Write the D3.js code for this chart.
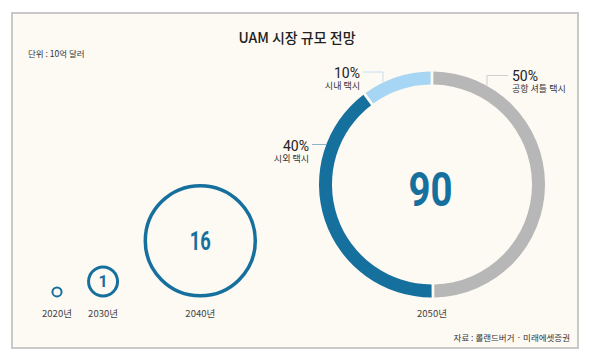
<!DOCTYPE html>
<html><head><meta charset="utf-8">
<script src="https://cdn.jsdelivr.net/npm/d3@7"></script>
<style>
html,body{margin:0;padding:0;background:#fff;}
svg{display:block;}
</style></head>
<body>
<svg id="chart" width="591" height="362"></svg>
<script>
// ---- data ----
const title = "UAM 시장 규모 전망";
const unitLabel = "단위 : 10억 달러";
const sourceLabel = "자료 : 롤랜드버거 · 미래에셋증권";
const years = ["2020년", "2030년", "2040년", "2050년"];
const marketValues = [0.09, 1, 16, 90];
const valueLabels = ["", "1", "16", "90"];
const segmentNames = ["공항 셔틀 택시", "시외 택시", "시내 택시"];
const segmentShares = [50, 40, 10];
const segmentColors = ["#b7b7b7", "#16709e", "#a6d6f3"];

// ---- layout ----
const svg = d3.select("#chart");
const W = 591, H = 362;
const blue = "#16709e";
const kr = "'Noto Sans CJK KR', 'Noto Sans', sans-serif";
const num = "Roboto, 'Noto Sans', sans-serif";

svg.append("rect").attr("x", 12).attr("y", 13).attr("width", 566).attr("height", 335)
  .attr("fill", "#fdf9f3").attr("stroke", "#c9c9c9").attr("stroke-width", 2);

svg.append("text").attr("x", 297).attr("y", 42.5).attr("text-anchor", "middle")
  .attr("font-family", kr).attr("font-size", 14).attr("font-weight", 500).attr("fill", "#222")
  .text(title);
svg.append("text").attr("x", 28).attr("y", 57).attr("font-family", kr)
  .attr("font-size", 8.5).attr("fill", "#333").text(unitLabel);
svg.append("text").attr("x", 570).attr("y", 341).attr("text-anchor", "end").attr("font-family", kr)
  .attr("font-size", 8.5).attr("fill", "#333").text(sourceLabel);

// radius scale for the year circles
const rScale = d3.scalePow().exponent(0.481).domain([0, 16]).range([0, 55]);
const strokeW = [2, 3, 3.5];
const baseY = 297.5;      // bottom edge of all circles
const gap = 24.5;
const donutOuter = 113, donutInner = 100;
const donutCx = 432, donutCy = baseY - donutOuter;

// circles for years 0..2, cumulative x placement
let xPrev = null, rPrev = 0, swPrev = 0;
const xs = [];
for (let i = 0; i < 3; i++) {
  const r = rScale(marketValues[i]);
  const sw = strokeW[i];
  const x = i === 0 ? 57 : xPrev + rPrev + swPrev / 2 + gap + r + sw / 2;
  xs.push(x);
  const cy = baseY - r - sw / 2;
  svg.append("circle").attr("cx", x).attr("cy", cy).attr("r", r)
    .attr("fill", "none").attr("stroke", blue).attr("stroke-width", sw);
  if (valueLabels[i]) {
    const fs = i === 1 ? 16 : 26;
    const t = svg.append("text").attr("x", x).attr("y", cy).attr("dy", "0.36em")
      .attr("text-anchor", "middle").attr("font-family", num).attr("font-weight", 700)
      .attr("font-size", fs).attr("fill", blue).text(valueLabels[i]);
    if (i === 2) t.attr("textLength", 21).attr("lengthAdjust", "spacingAndGlyphs");
  }
  xPrev = x; rPrev = r; swPrev = sw;
}
xs.push(donutCx);

// year labels
svg.selectAll("text.year").data(years).join("text").attr("class", "year")
  .attr("x", (d, i) => xs[i]).attr("y", 316.5).attr("text-anchor", "middle")
  .attr("font-family", kr).attr("font-size", 9.5).attr("fill", "#444").text(d => d);

// donut for 2050
const pie = d3.pie().sort(null).value(d => d).padAngle(0.018);
const arc = d3.arc().innerRadius(donutInner).outerRadius(donutOuter);
const g = svg.append("g").attr("transform", `translate(${donutCx},${donutCy})`);
g.selectAll("path").data(pie(segmentShares)).join("path")
  .attr("d", arc).attr("fill", (d, i) => segmentColors[i]);

g.append("text").attr("x", -1.5).attr("y", 4).attr("dy", "0.36em").attr("text-anchor", "middle")
  .attr("font-family", num).attr("font-weight", 700).attr("font-size", 48).attr("fill", blue)
  .attr("textLength", 44).attr("lengthAdjust", "spacingAndGlyphs")
  .text(valueLabels[3]);

// segment labels with leader lines (offsets relative to donut centre)
const labels = [
  { i: 0, anchor: "start", x: 80, y: -104, line: [[76, -109], [55, -109], [55, -99]], stroke: "#cfcfcf" },
  { i: 1, anchor: "end", x: -123, y: -34, line: [[-120, -40], [-106, -40]], stroke: "#8db3c9" },
  { i: 2, anchor: "end", x: -72, y: -107, line: [[-69, -112.5], [-49, -112.5], [-49, -102]], stroke: "#c4e0f0" }
];
labels.forEach(l => {
  g.append("path").attr("d", d3.line()(l.line)).attr("fill", "none")
    .attr("stroke", l.stroke).attr("stroke-width", 1);
  g.append("text").attr("x", l.x).attr("y", l.y).attr("text-anchor", l.anchor)
    .attr("font-family", num).attr("font-size", 14).attr("fill", "#222")
    .text(segmentShares[l.i] + "%");
  g.append("text").attr("x", l.x).attr("y", l.y + 11.5).attr("text-anchor", l.anchor)
    .attr("font-family", kr).attr("font-size", 9).attr("fill", "#333")
    .text(segmentNames[l.i]);
});
</script>
</body></html>
